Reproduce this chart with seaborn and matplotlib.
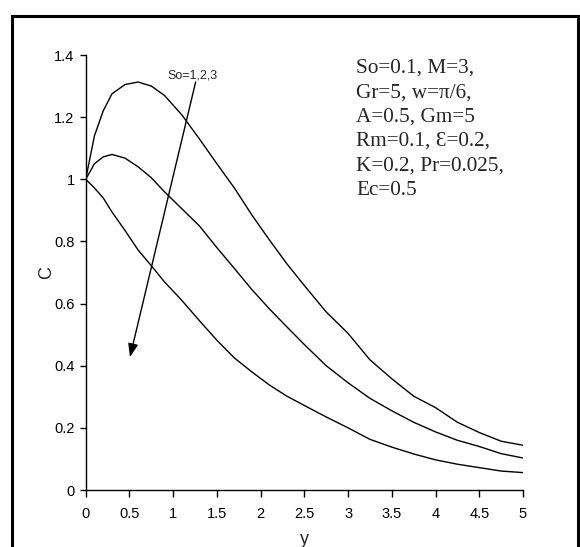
import matplotlib
matplotlib.use("Agg")
import matplotlib.pyplot as plt
import matplotlib.patches as mpatches
import seaborn as sns
import pandas as pd
from matplotlib.font_manager import fontManager

sns.set_style("ticks")
names = {f.name for f in fontManager.ttflist}
narrow = "Liberation Sans Narrow" if "Liberation Sans Narrow" in names else "Liberation Sans"
plt.rcParams['font.family'] = [narrow, 'DejaVu Sans']

y_vals = [0, 0.1, 0.2, 0.3, 0.45, 0.6, 0.75, 0.9, 1.1, 1.3, 1.5, 1.7, 1.9, 2.1, 2.3,
          2.5, 2.75, 3.0, 3.25, 3.5, 3.75, 4.0, 4.25, 4.5, 4.75, 5.0]
c_so1 = [1.0, 1.14, 1.22, 1.275, 1.305, 1.313, 1.30, 1.27, 1.207, 1.13, 1.05, 0.972, 0.885,
         0.805, 0.728, 0.658, 0.573, 0.504, 0.419, 0.358, 0.302, 0.265, 0.218, 0.185, 0.157, 0.144]
c_so2 = [1.0, 1.05, 1.072, 1.08, 1.068, 1.04, 1.005, 0.96, 0.905, 0.85, 0.78, 0.713, 0.645,
         0.583, 0.525, 0.468, 0.40, 0.345, 0.295, 0.255, 0.218, 0.187, 0.16, 0.14, 0.117, 0.103]
c_so3 = [1.0, 0.972, 0.94, 0.895, 0.835, 0.772, 0.722, 0.67, 0.61, 0.545, 0.482, 0.425, 0.38,
         0.338, 0.302, 0.272, 0.235, 0.20, 0.163, 0.138, 0.116, 0.097, 0.083, 0.072, 0.061, 0.056]
so_values = [1, 2, 3]
x_ticks = [0, 0.5, 1, 1.5, 2, 2.5, 3, 3.5, 4, 4.5, 5]
y_ticks = [0, 0.2, 0.4, 0.6, 0.8, 1, 1.2, 1.4]
params_text = ("So=0.1, M=3,\nGr=5, w=\u03c0/6,\nA=0.5, Gm=5\nRm=0.1, \u0190=0.2,\n"
               "K=0.2, Pr=0.025,\nEc=0.5")

frames = []
for so, c in zip(so_values, [c_so1, c_so2, c_so3]):
    frames.append(pd.DataFrame({"y": y_vals, "C": c, "So": so}))
df = pd.concat(frames, ignore_index=True)

W, H = 580, 547
x0, x1, yb, yt = 85.7, 523, 490, 55
fig = plt.figure(figsize=(W / 100, H / 100), dpi=100)
ax = fig.add_axes([x0 / W, 1 - yb / H, (x1 - x0) / W, (yb - yt) / H])
sns.lineplot(data=df, x="y", y="C", hue="So", palette=["black"] * 3, ax=ax,
             legend=False, linewidth=1.0, estimator=None, sort=False)

ax.set_xlim(0, 5)
ax.set_ylim(0, 1.4)
ax.set_xticks(x_ticks)
ax.set_xticklabels([f"{v:g}" for v in x_ticks])
ax.set_yticks(y_ticks)
ax.set_yticklabels([f"{v:g}" for v in y_ticks])
ax.tick_params(axis="both", direction="out", length=4, width=1, labelsize=10.5, colors="black")
ax.tick_params(axis="x", length=5, pad=7)
ax.tick_params(axis="y", pad=4)
for s in ["top", "right"]:
    ax.spines[s].set_visible(False)
for s in ["left", "bottom"]:
    ax.spines[s].set_linewidth(1.0)
    ax.spines[s].set_color("black")
ax.set_xlabel("y", fontsize=13)
ax.set_ylabel("C", fontsize=13)
ax.xaxis.set_label_coords(0.5, (yb - 539) / (yb - yt))
ax.xaxis.label.set_va("center")
ax.yaxis.set_label_coords((47 - x0) / (x1 - x0), 0.5)
ax.yaxis.label.set_va("center")

ax.annotate("", xy=(0.506, 0.428), xytext=(1.257, 1.313),
            arrowprops=dict(arrowstyle="-|>,head_length=0.8,head_width=0.3",
                            color="black", lw=1.0, shrinkA=0, shrinkB=0))
ax.text(1.22, 1.335, "So=1,2,3", fontsize=9, ha="center", va="center")

fig.text(356 / W, 1 - 59 / H, params_text, fontsize=15.3,
         family=["Liberation Serif", "DejaVu Serif"],
         ha="left", va="top", linespacing=1.38)

fig.patches.append(mpatches.Rectangle((11.5 / W, -0.05), 566 / W, 1 - 15.5 / H + 0.05,
                                      transform=fig.transFigure, fill=False,
                                      edgecolor="black", linewidth=2.2))

fig.savefig("out.png", dpi=100)
